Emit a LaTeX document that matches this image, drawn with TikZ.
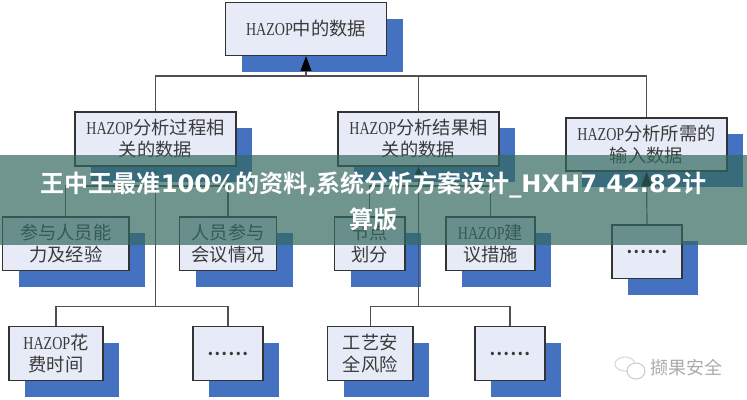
\documentclass[tikz,border=0pt]{standalone}
\usepackage{fontspec}
\usetikzlibrary{arrows.meta,shadows}
\newfontfamily\cjkf{Noto Sans CJK SC}
\newfontfamily\cjkb{Noto Sans CJK SC Bold}
\newfontfamily\latb{DejaVu Sans Bold}
\newfontfamily\latn[FakeStretch=0.77]{Liberation Serif}
\newcommand{\hz}[1]{{\latn #1}}
\newcommand{\dotsix}{{\cjkb ……}}
\definecolor{boxfill}{HTML}{E6EBF7}
\definecolor{boxline}{HTML}{333333}
\definecolor{shadowblue}{HTML}{4472C0}
\definecolor{linecol}{HTML}{505050}
\definecolor{txtcol}{HTML}{3A3A3A}
\definecolor{bannercol}{HTML}{34695F}
\tikzset{
  box/.style 2 args={rectangle,draw=boxline,line width=0.9pt,fill=boxfill,
    text=txtcol,inner sep=0pt,align=center,font=\cjkf\fontsize{13.7pt}{16.6pt}\selectfont,
    minimum width=#1*0.75pt,minimum height=#2*0.75pt,
    copy shadow={shadow xshift=12pt,shadow yshift=-12.3pt,draw=none,fill=shadowblue,opacity=1}},
  conn/.style={draw=linecol,line width=0.9pt},
  arrowup/.style={conn,-{Stealth[length=11pt,width=8pt,inset=0pt,color=black]}},
  arrowsmall/.style={conn,-{Stealth[length=6pt,width=5pt,inset=0pt,color=black]}},
}
\begin{document}
\begin{tikzpicture}[x=0.75pt,y=-0.75pt]
\useasboundingbox (0,0) rectangle (747,400);
\fill[white] (0,0) rectangle (747,400);
% boxes
\node[box={161}{53}] (top) at (306,29) {\hz{HAZOP}中的数据};
\node[box={161}{54}] (proc) at (155.5,139) {\hz{HAZOP}分析过程相\\关的数据};
\node[box={161}{54}] (res) at (418.5,139) {\hz{HAZOP}分析结果相\\关的数据};
\node[box={161}{53}] (inp) at (646.5,144.5) {\hz{HAZOP}分析所需的\\输入数据};
\node[box={126.5}{53.5}] (a1) at (65.75,243.75) {参与人员能\\力及经验};
\node[box={97}{53.5}] (a2) at (228,243.75) {人员参与\\会议情况};
\node[box={70.5}{53.5}] (b1) at (369.75,243.75) {节点\\划分};
\node[box={89}{53.5}] (b2) at (490.5,243.75) {\hz{HAZOP}建\\议措施};
\node[box={70}{53.5}] (c1) at (647,251.75) {\dotsix};
\node[box={94}{54}] (a3) at (56,353.5) {\hz{HAZOP}花\\费时间};
\node[box={70}{54}] (a4) at (228,353.5) {\dotsix};
\node[box={85.5}{54}] (b3) at (370.25,353.5) {工艺安\\全风险};
\node[box={70}{54}] (b4) at (510,353.5) {\dotsix};
% junctions
\coordinate (jtop) at (306,76);
\coordinate (jpm) at (155.5,186);
\coordinate (jpl) at (155.5,306.5);
\coordinate (jrm) at (418.5,186);
\coordinate (jrl) at (418.5,306.5);
% connectors
\draw[arrowup] (jtop) -- (top.south);
\draw[conn] (proc.north) |- (jtop);
\draw[conn] (res.north) |- (jtop);
\draw[conn] (inp.north) |- (jtop);
\draw[conn] (proc.south) -- (jpl);
\draw[conn] (a1.north) |- (jpm);
\draw[conn] (a2.north) |- (jpm);
\draw[conn] (a3.north) |- (jpl);
\draw[conn] (a4.north) |- (jpl);
\draw[arrowsmall] (jrm) -- (res.south);
\draw[conn] (jrl) -- (jrm);
\draw[conn] (b1.north) |- (jrm);
\draw[conn] (b2.north) |- (jrm);
\draw[conn] (b3.north) |- (jrl);
\draw[conn] (b4.north) |- (jrl);
\draw[arrowup] (c1.north) -- (inp.south);
% watermark
\draw[black!15,line width=0.8pt] (625,364) ellipse (10 and 7);
\draw[black!20,fill=white,line width=0.8pt] (636,371) ellipse (9 and 8);
\node[text=black!33,inner sep=0pt,font=\cjkf\fontsize{13.5pt}{16pt}\selectfont] (wm) at (686.5,368) {撷果安全};
% banner
\fill[bannercol,fill opacity=0.7] (0,155) rectangle (747,245);
\node[text=white,inner sep=0pt,align=center,font=\cjkb\fontsize{18.07pt}{27pt}\selectfont] (title) at (373.5,201)
  {王中王最准{\latb 100\%}的资料{\latb ,}系统分析方案设计{\latb \_HXH7.42.82}计\\算版};
\end{tikzpicture}
\end{document}
